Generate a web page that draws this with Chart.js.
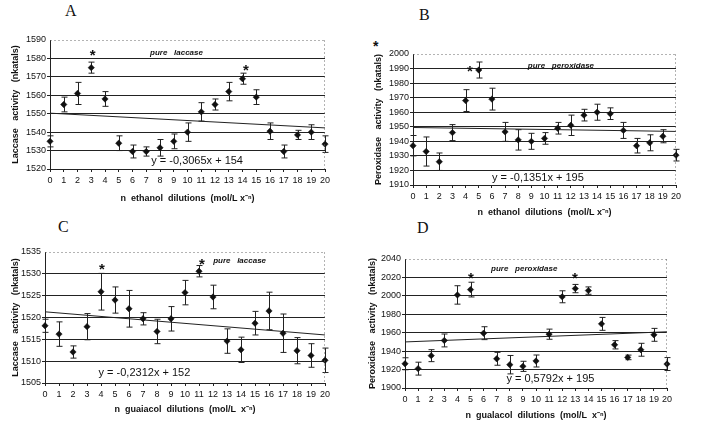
<!DOCTYPE html>
<html>
<head>
<meta charset="utf-8">
<script src="https://cdn.jsdelivr.net/npm/chart.js@4.4.1/dist/chart.umd.min.js"></script>
<style>
  body { margin: 0; background: #fff; width: 715px; height: 427px; position: relative; overflow: hidden; }
  canvas { position: absolute; }
  .tag { position: absolute; font-family: "Liberation Serif", "DejaVu Serif", serif; font-size: 16px; color: #111; }
  .mark { position: absolute; font-family: "Liberation Sans", sans-serif; font-weight: bold; font-size: 14px; color: #111; }
</style>
</head>
<body>
<div class="tag" style="left:65px; top:2px;">A</div>
<div class="tag" style="left:419px; top:6px;">B</div>
<div class="tag" style="left:58px; top:218px;">C</div>
<div class="tag" style="left:417px; top:219px;">D</div>
<div class="mark" style="left:373px; top:38px;">*</div>

<canvas id="chartA" width="355" height="210"></canvas>
<canvas id="chartB" width="360" height="220"></canvas>
<canvas id="chartC" width="355" height="217"></canvas>
<canvas id="chartD" width="360" height="217"></canvas>

<script>
// x categories: number of dilutions
var dilutions = [0, 1, 2, 3, 4, 5, 6, 7, 8, 9, 10, 11, 12, 13, 14, 15, 16, 17, 18, 19, 20];
var trendX = [0, 20];

// A - laccase, ethanol dilutions
var laccaseEthanol = [1535, 1555, 1561, 1575, 1558, 1534, 1529.5, 1529.5, 1531.5, 1535, 1540, 1551, 1555, 1562, 1569, 1559, 1540.5, 1529.5, 1538.5, 1540, 1533.5];
var laccaseEthanolErr = [3, 4, 6, 3, 4, 4, 3.5, 2.5, 4.5, 4, 5, 5, 3, 5, 3, 4, 4.5, 3.5, 2.5, 4, 4.5];
var laccaseEthanolTrend = [1550.3, 1542.3];

// B - peroxidase, ethanol dilutions
var peroxEthanol = [1937, 1933, 1926, 1946, 1968, 1989, 1969, 1946.5, 1941, 1940, 1942, 1949, 1951, 1958, 1960, 1959, 1947.5, 1937, 1939, 1943.5, 1930.5];
var peroxEthanolErr = [7, 10, 6, 5.5, 7.5, 5.5, 7.5, 6.5, 7, 5.5, 4, 4, 7, 4, 5.5, 4, 5.5, 5, 5.5, 4.5, 4];
var peroxEthanolTrend = [1949.5, 1946.8];

// C - laccase, guaiacol dilutions
var laccaseGuaiacol = [1518.1, 1516.2, 1512.1, 1517.9, 1525.9, 1524, 1522, 1519.7, 1516.8, 1519.7, 1525.7, 1530.6, 1524.7, 1514.6, 1512.6, 1518.7, 1521.5, 1516.4, 1512.4, 1511.3, 1510.2];
var laccaseGuaiacolErr = [1.5, 2.8, 1.4, 3, 4.2, 3, 4.2, 1.4, 2.8, 2.8, 2.8, 1.3, 2.7, 2.8, 2.9, 2.7, 4.3, 4.4, 3, 2.7, 2.8];
var laccaseGuaiacolTrend = [1521.3, 1516];

// D - peroxidase, guaiacol dilutions
var peroxGuaiacol = [1926.3, 1921, 1935.1, 1951.6, 2001, 2006.8, 1959.5, 1931.7, 1925.3, 1923.5, 1929.3, 1958.4, 1999, 2007.9, 2005.7, 1969.6, 1946.9, 1933.2, 1941.5, 1957.7, 1926];
var peroxGuaiacolErr = [6.5, 7, 6.5, 7, 10, 8, 7, 7, 10, 5.5, 6.5, 5.5, 6.5, 4.5, 4, 7, 4.5, 2.5, 7, 7, 7];
var peroxGuaiacolTrend = [1950, 1961];

// y tick ranges: min, max, step
var yRangeA = [1520, 1590, 10];
var yRangeB = [1910, 2000, 10];
var yRangeC = [1505, 1535, 5];
var yRangeD = [1900, 2040, 20];

var sans = '"Liberation Sans", Arial, sans-serif';

function makePanel(id, box, p) {
  var canvas = document.getElementById(id);
  canvas.style.left = box.x + 'px';
  canvas.style.top = box.y + 'px';

  var points = dilutions.map(function (d, i) { return { x: d, y: p.mean[i] }; });
  var trend = trendX.map(function (d, i) { return { x: d, y: p.trend[i] }; });

  // error bars, stars, notes and the dotted frame
  var overlay = {
    id: 'overlay',
    beforeDatasetsDraw: function (chart) {
      var c = chart.ctx, x = chart.scales.x, y = chart.scales.y;
      c.save();
      c.strokeStyle = '#222';
      c.lineWidth = 1;
      p.mean.forEach(function (m, i) {
        var px = Math.round(x.getPixelForValue(dilutions[i])) + 0.5;
        var t = y.getPixelForValue(m + p.err[i]);
        var b = y.getPixelForValue(m - p.err[i]);
        c.beginPath();
        c.moveTo(px, t); c.lineTo(px, b);
        c.moveTo(px - 3, t); c.lineTo(px + 3, t);
        c.moveTo(px - 3, b); c.lineTo(px + 3, b);
        c.stroke();
      });
      c.restore();
    },
    afterDraw: function (chart) {
      var c = chart.ctx, x = chart.scales.x, y = chart.scales.y, a = chart.chartArea;
      c.save();
      c.strokeStyle = '#666';
      c.setLineDash([2, 2]);
      c.beginPath();
      c.moveTo(a.left, a.top + 0.5); c.lineTo(a.right, a.top + 0.5);
      c.moveTo(a.right - 0.5, a.top); c.lineTo(a.right - 0.5, a.bottom);
      c.stroke();
      c.setLineDash([]);
      c.fillStyle = '#111';
      c.textAlign = 'center';
      c.textBaseline = 'middle';
      c.font = 'bold 15px ' + sans;
      p.stars.forEach(function (s) {
        c.fillText('*', x.getPixelForValue(s[0]), y.getPixelForValue(s[1]) + 3);
      });
      c.font = 'italic bold 8px ' + sans;
      c.fillText(p.pure[2], x.getPixelForValue(p.pure[0]), y.getPixelForValue(p.pure[1]));
      c.font = '11px ' + sans;
      c.fillText(p.eq[2], x.getPixelForValue(p.eq[0]), y.getPixelForValue(p.eq[1]));
      c.restore();
    }
  };

  return new Chart(canvas.getContext('2d'), {
    type: 'scatter',
    data: {
      datasets: [{
        data: points,
        pointStyle: 'rectRot',
        pointRadius: 3.2,
        backgroundColor: '#111',
        borderColor: '#111',
        borderWidth: 0.5,
        clip: false
      },
      {
        type: 'line',
        data: trend,
        borderColor: '#222',
        borderWidth: 1,
        pointRadius: 0,
        fill: false
      }]
    },
    options: {
      responsive: false,
      animation: false,
      devicePixelRatio: 1,
      layout: { padding: box.pad },
      plugins: { legend: { display: false }, tooltip: { enabled: false } },
      scales: {
        x: {
          type: 'linear', min: 0, max: 20,
          afterFit: function (s) { s.height = box.xh; },
          ticks: { stepSize: 1, autoSkip: false, maxRotation: 0, padding: 3, color: '#111', font: { family: sans, size: 9 } },
          grid: { drawOnChartArea: false, tickLength: 3, color: '#222' },
          border: { color: '#222' },
          title: { display: true, text: p.xTitle, color: '#111', padding: { top: 2, bottom: 0 }, font: { family: sans, size: 9, weight: 'bold' } }
        },
        y: {
          min: p.yr[0], max: p.yr[1],
          afterFit: function (s) { s.width = box.yw; },
          ticks: {
            stepSize: p.yr[2], padding: 1, color: '#111', font: { family: sans, size: 9 },
            callback: function (v) { return String(v); }
          },
          grid: {
            tickLength: 3,
            color: function (ctx) { return ctx.tick && ctx.tick.value === p.yr[1] ? 'rgba(0,0,0,0)' : '#222'; }
          },
          border: { color: '#222' },
          title: { display: true, text: p.yTitle, color: '#111', padding: { top: 0, bottom: 2 }, font: { family: sans, size: 9, weight: 'bold' } }
        }
      }
    },
    plugins: [overlay]
  });
}

makePanel('chartA', { x: 0, y: 0, pad: { left: 10, top: 40, right: 30, bottom: 6 }, yw: 40, xh: 35 }, {
  mean: laccaseEthanol, err: laccaseEthanolErr, trend: laccaseEthanolTrend, yr: yRangeA,
  stars: [[3.1, 1583], [14.25, 1575]],
  pure: [9.2, 1583, 'pure   laccase'],
  eq: [10.7, 1524.5, 'y = -0,3065x + 154'],
  yTitle: 'Laccase   activity   (nkatals)',
  xTitle: 'n  ethanol  dilutions  (mol/L x\u207B\u207F)'
});

makePanel('chartB', { x: 355, y: 0, pad: { left: 18, top: 54, right: 39, bottom: 2 }, yw: 40, xh: 33 }, {
  mean: peroxEthanol, err: peroxEthanolErr, trend: peroxEthanolTrend, yr: yRangeB,
  stars: [[4.33, 1990]],
  pure: [11.25, 1992, 'pure   peroxidase'],
  eq: [9.5, 1915, 'y = -0,1351x + 195'],
  yTitle: 'Peroxidase   activity   (nkatals)',
  xTitle: 'n  ethanol  dilutions  (mol/L x\u207B\u207F)'
});

makePanel('chartC', { x: 0, y: 210, pad: { left: 10, top: 42, right: 30, bottom: 12 }, yw: 35, xh: 32 }, {
  mean: laccaseGuaiacol, err: laccaseGuaiacolErr, trend: laccaseGuaiacolTrend, yr: yRangeC,
  stars: [[4.07, 1531.5], [11.2, 1532.8]],
  pure: [13.9, 1533, 'pure   laccase'],
  eq: [7.1, 1507.2, 'y = -0,2312x + 152'],
  yTitle: 'Laccase   activity   (nkatals)',
  xTitle: 'n  guaiacol  dilutions  (mol/L  x\u207B\u207F)'
});

makePanel('chartD', { x: 355, y: 210, pad: { left: 12, top: 49, right: 48, bottom: 6 }, yw: 38, xh: 33 }, {
  mean: peroxGuaiacol, err: peroxGuaiacolErr, trend: peroxGuaiacolTrend, yr: yRangeD,
  stars: [[5.04, 2022], [12.98, 2022]],
  pure: [9.1, 2029, 'pure   peroxidase'],
  eq: [11.1, 1910, 'y = 0,5792x + 195'],
  yTitle: 'Peroxidase   activity   (nkatals)',
  xTitle: 'n  gualacol  dilutions  (mol/L  x\u207B\u207F)'
});
</script>
</body>
</html>
